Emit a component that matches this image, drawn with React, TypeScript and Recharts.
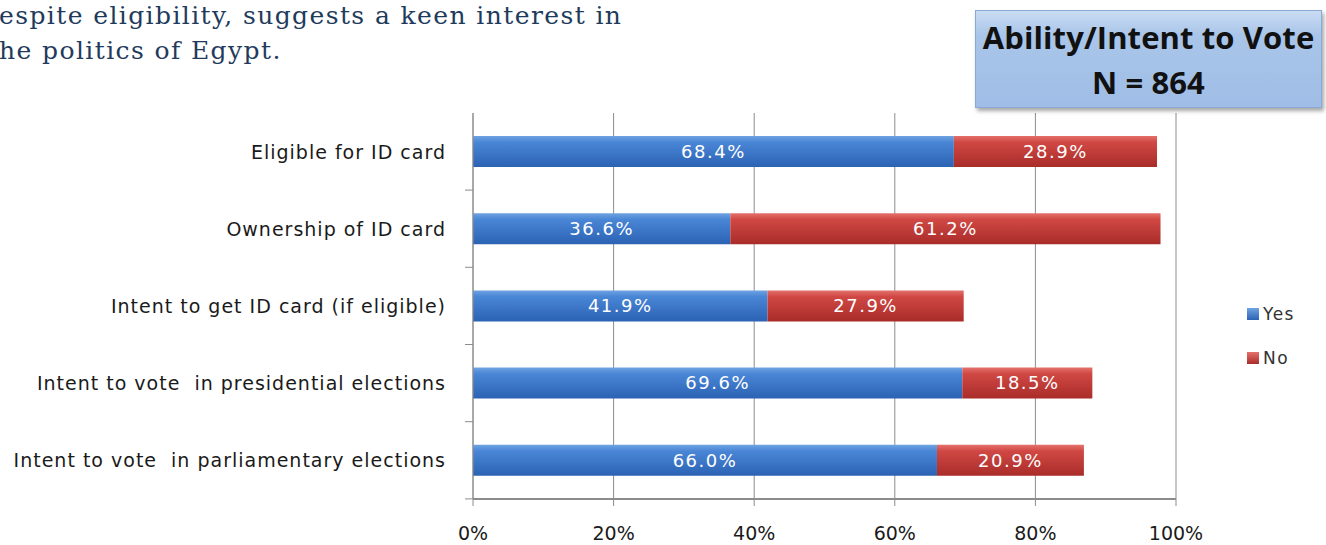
import { Bar, BarChart, CartesianGrid, LabelList, XAxis, YAxis } from "recharts";

const categories = [
  "Eligible for ID card",
  "Ownership of ID card",
  "Intent to get ID card (if eligible)",
  "Intent to vote  in presidential elections",
  "Intent to vote  in parliamentary elections",
];
const yesValues = [68.4, 36.6, 41.9, 69.6, 66.0];
const noValues = [28.9, 61.2, 27.9, 18.5, 20.9];
const xTicks = [0, 20, 40, 60, 80, 100];

const data = categories.map((name, i) => ({ name, yes: yesValues[i], no: noValues[i] }));

const AXIS_GRAY = "#8c8c8c";
const LABEL_FONT = "'DejaVu Sans', Verdana, sans-serif";

function CategoryTick(props: any) {
  const { x, y, payload } = props;
  const half = 38.5; // half band, tick marks sit between categories
  return (
    <g>
      <text
        x={x - 19}
        y={y}
        dy={7}
        textAnchor="end"
        fill="#1a1a1a"
        fontSize={19}
        letterSpacing={1}
        fontFamily={LABEL_FONT}
        style={{ whiteSpace: "pre" }}
      >
        {payload.value}
      </text>
      <line x1={x} x2={x + 8} y1={y + half} y2={y + half} stroke={AXIS_GRAY} />
    </g>
  );
}

function PctTick(props: any) {
  const { x, y, payload } = props;
  return (
    <text x={x} y={y + 32} textAnchor="middle" fill="#1a1a1a" fontSize={19} fontFamily={LABEL_FONT}>
      {`${payload.value}%`}
    </text>
  );
}

const barLabel = {
  position: "center" as const,
  formatter: (v: any) => `${Number(v).toFixed(1)}%`,
  fill: "#fff",
  fontSize: 18,
  fontFamily: LABEL_FONT,
  letterSpacing: 1.5,
};

export default function App() {
  return (
    <div
      style={{
        position: "absolute",
        left: 0,
        top: 0,
        width: 1326,
        height: 545,
        overflow: "hidden",
        background: "#fff",
      }}
    >
      <div
        style={{
          position: "absolute",
          left: -1,
          top: -2,
          fontFamily: "'DejaVu Serif', 'Liberation Serif', serif",
          fontSize: 25,
          lineHeight: "35px",
          letterSpacing: 1.4,
          color: "#1f3b5c",
          whiteSpace: "nowrap",
        }}
      >
        <div>espite eligibility, suggests a keen interest in</div>
        <div>he politics of Egypt.</div>
      </div>

      <BarChart
        width={1326}
        height={545}
        data={data}
        layout="vertical"
        barSize={31}
        margin={{ top: 113, right: 150, bottom: 0, left: 0 }}
      >
        <defs>
          <linearGradient id="yesFill" x1="0" y1="0" x2="0" y2="1">
            <stop offset="0%" stopColor="#6fa3e2" />
            <stop offset="20%" stopColor="#4a86d6" />
            <stop offset="100%" stopColor="#2b62b4" />
          </linearGradient>
          <linearGradient id="noFill" x1="0" y1="0" x2="0" y2="1">
            <stop offset="0%" stopColor="#e4716c" />
            <stop offset="20%" stopColor="#d04844" />
            <stop offset="100%" stopColor="#a92c29" />
          </linearGradient>
        </defs>
        <CartesianGrid stroke={AXIS_GRAY} horizontal={false} />
        <XAxis
          type="number"
          domain={[0, 100]}
          ticks={xTicks}
          height={46}
          tick={<PctTick />}
          tickLine={{ stroke: AXIS_GRAY }}
          tickSize={7}
          axisLine={{ stroke: AXIS_GRAY, strokeWidth: 2 }}
          interval={0}
        />
        <YAxis
          type="category"
          dataKey="name"
          width={473}
          tick={<CategoryTick />}
          tickLine={false}
          axisLine={{ stroke: AXIS_GRAY }}
          interval={0}
        />
        <Bar dataKey="yes" stackId="a" fill="url(#yesFill)" isAnimationActive={false}>
          <LabelList dataKey="yes" {...barLabel} />
        </Bar>
        <Bar dataKey="no" stackId="a" fill="url(#noFill)" isAnimationActive={false}>
          <LabelList dataKey="no" {...barLabel} />
        </Bar>
      </BarChart>

      {/* legend */}
      <div
        style={{
          position: "absolute",
          left: 1247,
          top: 303,
          fontFamily: LABEL_FONT,
          fontSize: 17,
          letterSpacing: 1.5,
          color: "#333",
        }}
      >
        {[
          { label: "Yes", fill: "linear-gradient(#6fa3e2, #2b62b4)" },
          { label: "No", fill: "linear-gradient(#e4716c, #a92c29)" },
        ].map((item) => (
          <div key={item.label} style={{ display: "flex", alignItems: "center", height: 22, marginBottom: 22 }}>
            <span style={{ width: 12, height: 12, background: item.fill, marginRight: 4 }} />
            <span>{item.label}</span>
          </div>
        ))}
      </div>

      {/* title box */}
      <div
        style={{
          position: "absolute",
          left: 975,
          top: 10,
          width: 347,
          height: 98,
          boxSizing: "border-box",
          background: "linear-gradient(#cadcf3, #a9c5e9 25%, #9fbde6)",
          border: "1px solid #8aa9d4",
          boxShadow: "2px 3px 4px rgba(0,0,0,0.35)",
          fontFamily: "'Open Sans', 'Liberation Sans', sans-serif",
          fontWeight: 700,
          fontSize: 31,
          lineHeight: "46px",
          color: "#111",
          textAlign: "center",
          paddingTop: 3,
          letterSpacing: 0.1,
        }}
      >
        <div>Ability/Intent to Vote</div>
        <div style={{ marginTop: -1 }}>N = 864</div>
      </div>
    </div>
  );
}
